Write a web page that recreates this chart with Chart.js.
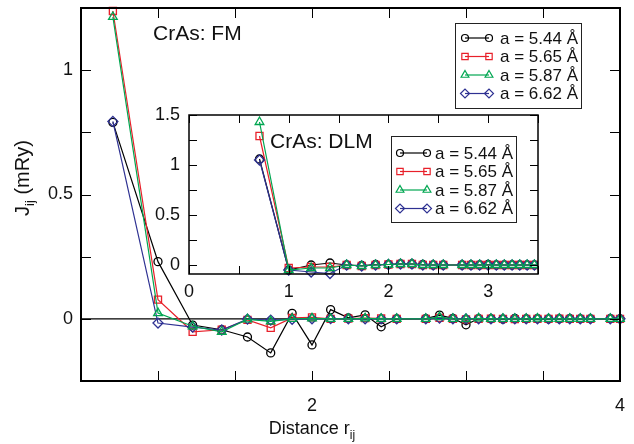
<!DOCTYPE html>
<html>
<head>
<meta charset="utf-8">
<script src="https://cdn.jsdelivr.net/npm/chart.js@4.4.1/dist/chart.umd.min.js"></script>
<style>
  html, body { margin: 0; padding: 0; background: #fff; }
  #wrap { position: relative; width: 634px; height: 444px; }
  #main { position: absolute; left: 0; top: 0; }
  #inset { position: absolute; left: 140px; top: 105px; }
</style>
</head>
<body>
<div id="wrap">
  <canvas id="main" width="634" height="444"></canvas>
  <canvas id="inset" width="410" height="200"></canvas>
</div>
<script>
// neighbour shell distances (units of a)
const distances = [0.707, 1.0, 1.225, 1.414, 1.581, 1.732, 1.871, 2.0, 2.121, 2.236,
  2.345, 2.449, 2.55, 2.739, 2.828, 2.915, 3.0, 3.082, 3.162, 3.24,
  3.317, 3.391, 3.464, 3.536, 3.606, 3.674, 3.742, 3.808, 3.937, 4.0];

const labels = ['a = 5.44 Å', 'a = 5.65 Å', 'a = 5.87 Å', 'a = 6.62 Å'];

// FM, main panel (mRy)
const fm544 = [0.79, 0.23, -0.025, -0.044, -0.073, -0.137, 0.022, -0.105, 0.037, 0.004,
  0.016, -0.032, 0.0, 0.001, 0.015, 0.002, -0.024, 0.001, 0.0, -0.002,
  0.002, 0.0, 0.001, -0.001, 0.0, 0.001, 0.0, 0.0, 0.001, 0.0];
const fm565 = [1.238, 0.077, -0.052, -0.044, -0.004, -0.036, 0.004, 0.006, 0.0, 0.001,
  0.003, 0.002, 0.0, 0.0, 0.004, 0.0, -0.002, 0.0, 0.001, 0.0,
  -0.001, 0.0, 0.0, 0.0, 0.001, 0.0, 0.0, 0.0, 0.0, 0.0];
const fm587 = [1.214, 0.023, -0.03, -0.052, -0.002, -0.01, 0.0, 0.002, 0.0, 0.0,
  0.002, 0.0, 0.0, 0.0, 0.007, 0.0, -0.001, 0.002, 0.0, 0.0,
  0.0, 0.0, 0.001, 0.0, 0.0, 0.0, 0.0, 0.0, 0.0, 0.0];
const fm662 = [0.794, -0.017, -0.033, -0.045, -0.001, -0.005, -0.002, 0.0, 0.001, 0.0,
  0.0, 0.0, 0.0, 0.0, 0.003, 0.0, 0.0, 0.0, 0.0, 0.0,
  0.0, 0.0, 0.0, 0.0, 0.0, 0.0, 0.0, 0.0, 0.0, 0.0];

// DLM, inset (mRy)
const dlm544 = [1.06, -0.05, 0.0, 0.02, 0.0, -0.005, 0.005, 0.005, 0.012, 0.01,
  0.005, 0.0, 0.0, 0.0, 0.0, 0.0, 0.005, 0.0, 0.0, 0.0, 0.0, 0.0, 0.0, 0.0];
const dlm565 = [1.29, -0.03, -0.02, -0.02, 0.0, -0.01, 0.0, 0.005, 0.01, 0.01,
  0.0, 0.0, 0.0, 0.0, 0.0, 0.0, 0.0, 0.0, 0.0, 0.0, 0.0, 0.0, 0.0, 0.0];
const dlm587 = [1.43, -0.05, -0.03, -0.03, 0.0, -0.01, 0.0, 0.005, 0.01, 0.01,
  0.0, 0.0, 0.0, 0.0, 0.0, 0.0, 0.0, 0.0, 0.0, 0.0, 0.0, 0.0, 0.0, 0.0];
const dlm662 = [1.05, -0.05, -0.07, -0.085, 0.0, -0.01, 0.0, 0.005, 0.01, 0.01,
  0.0, 0.0, 0.0, 0.0, 0.0, 0.0, 0.0, 0.0, 0.0, 0.0, 0.0, 0.0, 0.0, 0.0];

const colors = ['#000000', '#e8202a', '#00a651', '#2e3192'];
const markers = ['circle', 'rect', 'triangle', 'rectRot'];
const radii = [4, 5, 5, 5];
const drawOrder = [3, 2, 0, 1];
const FONT = '"Liberation Sans", Arial, Helvetica, sans-serif';

function series(values, i) {
  return {
    label: labels[i],
    data: values.map((v, k) => ({x: distances[k], y: v})),
    borderColor: colors[i],
    backgroundColor: 'rgba(0,0,0,0)',
    pointStyle: markers[i],
    pointRadius: radii[i],
    pointBorderWidth: 1.3,
    borderWidth: 1.2,
    order: drawOrder[i]
  };
}

function drawMarker(ctx, i, x, y) {
  Chart.helpers.drawPoint(ctx, {pointStyle: markers[i], radius: radii[i] - 0.5, borderWidth: 1.2}, x, y);
}

// no label overhang padding, so the plot box lands where we put it
function noPad(s) {
  s.paddingTop = 0; s.paddingBottom = 0; s.paddingLeft = 0; s.paddingRight = 0;
}

// frame, inward ticks, legend and label
const decor = {
  id: 'decor',
  beforeDraw(chart, args, o) {
    const {ctx, chartArea: a} = chart;
    if (o.fill) {
      ctx.save();
      ctx.fillStyle = '#fff';
      ctx.fillRect(a.left, a.top, a.right - a.left, a.bottom - a.top);
      ctx.restore();
    }
  },
  beforeDatasetsDraw(chart, args, o) {
    const {ctx, chartArea: a, scales: {y}} = chart;
    if (o.zeroLine) {
      ctx.save();
      ctx.strokeStyle = '#000';
      ctx.lineWidth = 1.3;
      ctx.beginPath();
      const py = y.getPixelForValue(0);
      ctx.moveTo(a.left, py);
      ctx.lineTo(a.right, py);
      ctx.stroke();
      ctx.restore();
    }
  },
  afterDatasetsDraw(chart, args, o) {
    const {ctx, chartArea: a, scales: {x, y}} = chart;
    ctx.save();
    ctx.strokeStyle = '#000';
    ctx.lineWidth = 1;
    ctx.beginPath();
    x.ticks.forEach(t => {
      const px = Math.round(x.getPixelForValue(t.value)) + 0.5;
      ctx.moveTo(px, a.bottom); ctx.lineTo(px, a.bottom - o.len);
      ctx.moveTo(px, a.top); ctx.lineTo(px, a.top + o.len);
    });
    y.ticks.forEach(t => {
      const py = Math.round(y.getPixelForValue(t.value)) + 0.5;
      ctx.moveTo(a.left, py); ctx.lineTo(a.left + o.len, py);
      ctx.moveTo(a.right, py); ctx.lineTo(a.right - o.len, py);
    });
    ctx.stroke();
    ctx.lineWidth = o.frame;
    ctx.strokeRect(a.left, a.top, a.right - a.left, a.bottom - a.top);

    // legend box
    const b = o.legend;
    ctx.fillStyle = '#fff';
    ctx.fillRect(b.x, b.y, b.w, b.h);
    ctx.lineWidth = 1;
    ctx.strokeStyle = '#222';
    ctx.strokeRect(b.x + 0.5, b.y + 0.5, b.w, b.h);
    ctx.font = '17px ' + FONT;
    ctx.textBaseline = 'middle';
    labels.forEach((lab, i) => {
      const ry = b.y + b.row0 + i * b.step;
      ctx.strokeStyle = colors[i];
      ctx.fillStyle = 'rgba(0,0,0,0)';
      ctx.lineWidth = 1.2;
      ctx.beginPath();
      ctx.moveTo(b.x + b.m0, ry);
      ctx.lineTo(b.x + b.m1, ry);
      ctx.stroke();
      drawMarker(ctx, i, b.x + b.m0, ry);
      drawMarker(ctx, i, b.x + b.m1, ry);
      ctx.fillStyle = '#111';
      ctx.fillText(lab, b.x + b.tx, ry + 1);
    });

    ctx.font = '21px ' + FONT;
    ctx.fillStyle = '#111';
    ctx.textBaseline = 'middle';
    ctx.fillText(o.note.text, o.note.x, o.note.y);
    ctx.restore();
  }
};

// axis titles with subscripts
const titles = {
  id: 'titles',
  afterDraw(chart) {
    const {ctx} = chart;
    ctx.save();
    ctx.fillStyle = '#111';
    ctx.textBaseline = 'alphabetic';
    function width(parts) {
      let w = 0;
      parts.forEach(p => { ctx.font = p[1] + 'px ' + FONT; w += ctx.measureText(p[0]).width; });
      return w;
    }
    function put(parts, x0, y0) {
      let x = x0;
      parts.forEach(p => {
        ctx.font = p[1] + 'px ' + FONT;
        ctx.fillText(p[0], x, y0 + p[2]);
        x += ctx.measureText(p[0]).width;
      });
    }
    const xt = [['Distance r', 18, 0], ['ij', 12, 5]];
    put(xt, 312 - width(xt) / 2, 434);
    const yt = [['J', 20, 0], ['ij', 13, 5], [' (mRy)', 20, 0]];
    ctx.translate(29, 178);
    ctx.rotate(-Math.PI / 2);
    put(yt, -width(yt) / 2, 0);
    ctx.restore();
  }
};

Chart.defaults.font.family = FONT;
Chart.defaults.color = '#111';

new Chart(document.getElementById('main'), {
  type: 'line',
  data: {
    datasets: [series(fm544, 0), series(fm565, 1), series(fm587, 2), series(fm662, 3)]
  },
  options: {
    responsive: false,
    animation: false,
    clip: false,
    layout: {padding: {left: 0, top: 8, right: 14, bottom: 0}},
    plugins: {
      legend: {display: false},
      tooltip: {enabled: false},
      decor: {
        len: 10, frame: 2, zeroLine: true,
        legend: {x: 455, y: 23, w: 126, h: 85, row0: 15, step: 18.5, m0: 10, m1: 34, tx: 45},
        note: {text: 'CrAs: FM', x: 153, y: 34}
      }
    },
    scales: {
      x: {
        type: 'linear', min: 0.5, max: 4,
        grid: {display: false, drawTicks: false},
        border: {display: false},
        afterFit: s => { s.height = 63; noPad(s); },
        ticks: {
          stepSize: 0.5, padding: 14, maxRotation: 0, autoSkip: false,
          font: {size: 18},
          callback: v => (v === 2 || v === 4) ? String(v) : ''
        }
      },
      y: {
        min: -0.25, max: 1.25,
        grid: {display: false, drawTicks: false},
        border: {display: false},
        afterFit: s => { s.width = 81; noPad(s); },
        ticks: {
          stepSize: 0.25, padding: 8,
          font: {size: 18},
          callback: v => (v === 0 || v === 0.5 || v === 1) ? String(v) : ''
        }
      }
    }
  },
  plugins: [decor, titles]
});

new Chart(document.getElementById('inset'), {
  type: 'line',
  data: {
    datasets: [series(dlm544, 0), series(dlm565, 1), series(dlm587, 2), series(dlm662, 3)]
  },
  options: {
    responsive: false,
    animation: false,
    clip: {left: 6, top: 6, right: 0, bottom: 6},
    layout: {padding: {left: 0, top: 10, right: 12, bottom: 0}},
    plugins: {
      legend: {display: false},
      tooltip: {enabled: false},
      decor: {
        fill: true, len: 8, frame: 1.5,
        legend: {x: 251, y: 31, w: 125, h: 86, row0: 17, step: 18.5, m0: 9, m1: 36, tx: 44},
        note: {text: 'CrAs: DLM', x: 130, y: 37}
      }
    },
    scales: {
      x: {
        type: 'linear', min: 0, max: 3.5,
        grid: {display: false, drawTicks: false},
        border: {display: false},
        afterFit: s => { s.height = 31; noPad(s); },
        ticks: {
          stepSize: 0.5, padding: 7, maxRotation: 0, autoSkip: false,
          font: {size: 18},
          callback: v => Number.isInteger(v) ? String(v) : ''
        }
      },
      y: {
        min: -0.09, max: 1.5,
        grid: {display: false, drawTicks: false},
        border: {display: false},
        afterFit: s => { s.width = 49; noPad(s); },
        afterBuildTicks: s => {
          s.ticks = [0, 0.25, 0.5, 0.75, 1, 1.25, 1.5].map(v => ({value: v}));
        },
        ticks: {
          padding: 9,
          font: {size: 18},
          callback: v => (v === 0 || v === 0.5 || v === 1 || v === 1.5) ? String(v) : ''
        }
      }
    }
  },
  plugins: [decor]
});
</script>
</body>
</html>
